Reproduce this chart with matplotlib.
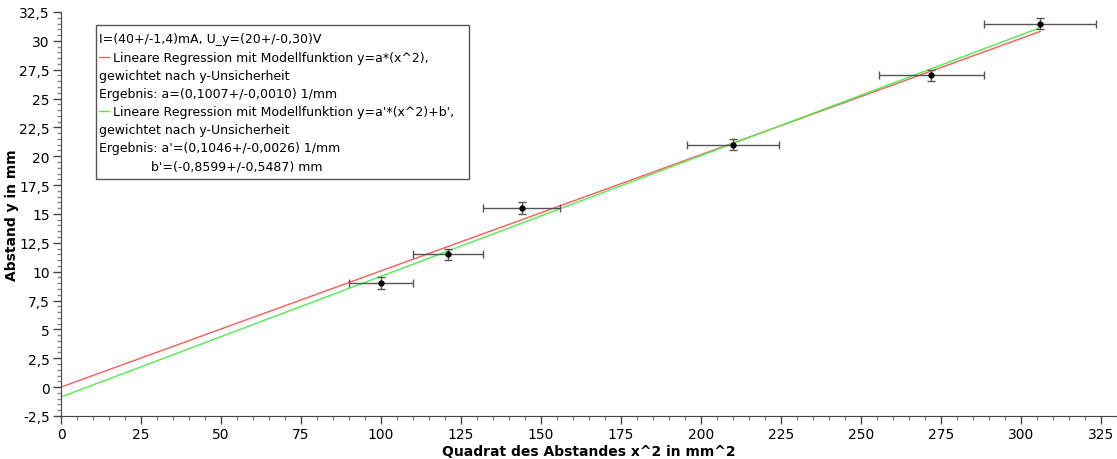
import matplotlib
matplotlib.use("Agg")
import matplotlib.pyplot as plt
import numpy as np
from matplotlib.ticker import MultipleLocator, FuncFormatter
from matplotlib.patches import Rectangle
from matplotlib.lines import Line2D

# Data
x_sq = [100, 121, 144, 210, 272, 306]
y_vals = [9.0, 11.5, 15.5, 21.0, 27.0, 31.5]
x_err = [10, 11, 12, 14.5, 16.5, 17.5]
y_err = [0.5, 0.5, 0.5, 0.5, 0.5, 0.5]

a1 = 0.1007
a2 = 0.1046
b2 = -0.8599
fit_x_range = [0, 306]

legend_lines = [
    "I=(40+/-1,4)mA, U_y=(20+/-0,30)V",
    "Lineare Regression mit Modellfunktion y=a*(x^2),",
    "gewichtet nach y-Unsicherheit",
    "Ergebnis: a=(0,1007+/-0,0010) 1/mm",
    "Lineare Regression mit Modellfunktion y=a'*(x^2)+b',",
    "gewichtet nach y-Unsicherheit",
    "Ergebnis: a'=(0,1046+/-0,0026) 1/mm",
    "             b'=(-0,8599+/-0,5487) mm",
]
legend_colors = [None, "#ff5a5a", None, None, "#4cf04c", None, None, None]

plt.rcParams['font.family'] = ['DejaVu Sans']

fig = plt.figure(figsize=(11.17, 4.6), dpi=100)
ax = fig.add_axes([61/1117, 43.1/460, 1056/1117, 403.9/460])

xf = np.array(fit_x_range, dtype=float)
ax.plot(xf, a1 * xf, color="#ff5a5a", lw=1.0, zorder=2)
ax.plot(xf, a2 * xf + b2, color="#4cf04c", lw=1.0, zorder=2)

ax.errorbar(x_sq, y_vals, xerr=x_err, yerr=y_err, fmt='o', color='black',
            ms=3.5, ecolor='#555555', elinewidth=1.0, capsize=3, capthick=1.0, zorder=3)

ax.set_xlim(0, 330)
ax.set_ylim(-2.5, 32.5)
ax.xaxis.set_major_locator(MultipleLocator(25))
ax.xaxis.set_minor_locator(MultipleLocator(5))
ax.yaxis.set_major_locator(MultipleLocator(2.5))
ax.yaxis.set_minor_locator(MultipleLocator(0.5))

def fmt(v, pos):
    s = ("%g" % round(v, 2))
    return s.replace('.', ',')
ax.xaxis.set_major_formatter(FuncFormatter(fmt))
ax.yaxis.set_major_formatter(FuncFormatter(fmt))

for s in ['top', 'right']:
    ax.spines[s].set_visible(False)
for s in ['left', 'bottom']:
    ax.spines[s].set_color('#444444')
ax.tick_params(axis='both', which='major', length=6, width=1, color='#444444', pad=2)
ax.tick_params(axis='both', which='major', labelsize=10)
ax.tick_params(axis='both', which='minor', length=3, width=1, color='#888888')

ax.set_xlabel("Quadrat des Abstandes x^2 in mm^2", fontsize=10, fontweight='bold', labelpad=2)
ax.set_ylabel("Abstand y in mm", fontsize=10, fontweight='bold')
ax.yaxis.set_label_coords(-0.0464, 0.5)
ax.yaxis.label.set_va('center')

# Legend box (pixel-based in axes fraction)
W, H = 1056.0, 403.9
x0p, y0p = 61.0, 416.9
def axf(px, py):
    return ((px - x0p) / W, (y0p - py) / H)

bx0, by0 = axf(96, 180)
bx1, by1 = axf(469, 26)
ax.add_patch(Rectangle((bx0, by0), bx1 - bx0, by1 - by0, transform=ax.transAxes,
                       facecolor='white', edgecolor='#555555', lw=1.0, zorder=5))
for i, (txt, col) in enumerate(zip(legend_lines, legend_colors)):
    py = 40 + i * 18.1
    if col is not None:
        lx0, ly = axf(99, py)
        lx1, _ = axf(109, py)
        ax.add_line(Line2D([lx0, lx1], [ly, ly], transform=ax.transAxes, color=col, lw=1.0, zorder=6))
        tx, ty = axf(113, py)
    else:
        tx, ty = axf(99, py)
    ax.text(tx, ty, txt, transform=ax.transAxes, fontsize=9, va='center', ha='left', zorder=6)

fig.savefig("out.png", dpi=100)
